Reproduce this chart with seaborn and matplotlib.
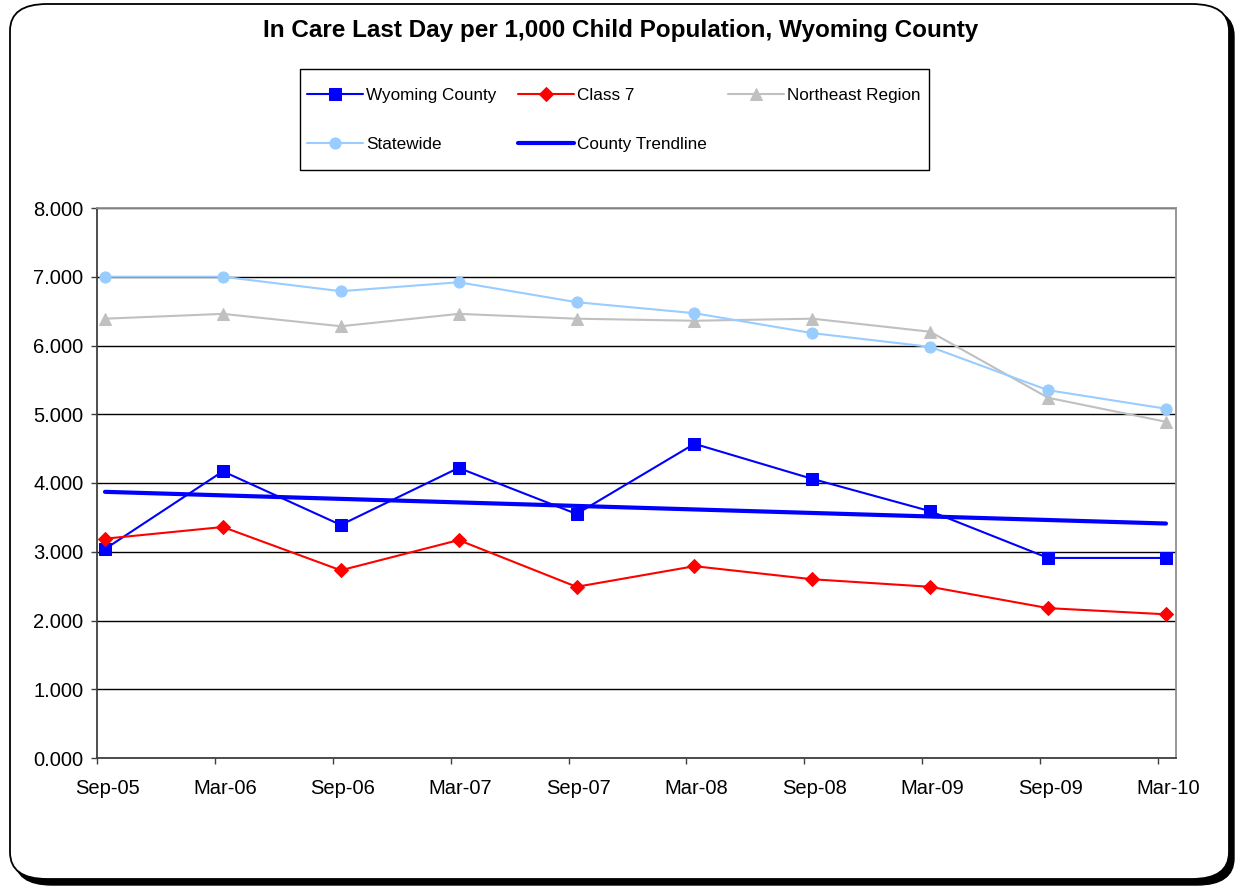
import numpy as np
import pandas as pd
import matplotlib
matplotlib.use("Agg")
import matplotlib.pyplot as plt
import seaborn as sns
from matplotlib.patches import FancyBboxPatch, Rectangle

# data
periods = ["Sep-05", "Mar-06", "Sep-06", "Mar-07", "Sep-07",
           "Mar-08", "Sep-08", "Mar-09", "Sep-09", "Mar-10"]
wyoming = [3.04, 4.17, 3.39, 4.22, 3.55, 4.57, 4.06, 3.59, 2.91, 2.91]
class7 = [3.19, 3.36, 2.73, 3.17, 2.49, 2.79, 2.60, 2.49, 2.18, 2.09]
northeast = [6.39, 6.46, 6.28, 6.46, 6.39, 6.36, 6.39, 6.20, 5.24, 4.89]
statewide = [7.00, 7.00, 6.79, 6.92, 6.63, 6.47, 6.18, 5.98, 5.35, 5.08]
y_ticks = [0, 1, 2, 3, 4, 5, 6, 7, 8]

idx = np.arange(len(periods))
# county trendline = linear fit of county values
coef = np.polyfit(idx, wyoming, 1)
trend = np.polyval(coef, idx)

df = pd.DataFrame({"idx": idx, "Wyoming County": wyoming, "Class 7": class7,
                   "Northeast Region": northeast, "Statewide": statewide,
                   "County Trendline": trend})

sns.set_style("white")
plt.rcParams['font.family'] = ['Liberation Sans', 'DejaVu Sans']
plt.rcParams['text.color'] = 'black'
plt.rcParams['xtick.color'] = 'black'
plt.rcParams['ytick.color'] = 'black'

W, H = 1238, 891
fig = plt.figure(figsize=(W / 100, H / 100), dpi=100)

# outer rounded frame with shadow
shadow = FancyBboxPatch((15 / W, 1 - 885 / H), 1219 / W, 876 / H,
                        boxstyle="round,pad=0,rounding_size=0.03",
                        transform=fig.transFigure, facecolor="black",
                        edgecolor="black", zorder=0)
frame = FancyBboxPatch((10 / W, 1 - 879 / H), 1219 / W, 875 / H,
                       boxstyle="round,pad=0,rounding_size=0.03",
                       transform=fig.transFigure, facecolor="white",
                       edgecolor="black", linewidth=1.3, zorder=1)
fig.patches.extend([shadow, frame])

ax = fig.add_axes([97 / W, 1 - 758 / H, (1176 - 97) / W, (758 - 208) / H])
ax.set_zorder(2)
ax.patch.set_alpha(0)

styles = [
    ("Wyoming County", "#0000FF", "s", 8, 1.5),
    ("Class 7", "#FF0000", "D", 7.5, 1.5),
    ("Northeast Region", "#C0C0C0", "^", 8.5, 1.5),
    ("Statewide", "#99CCFF", "o", 8, 1.5),
]
for name, color, marker, ms, lw in styles:
    sns.lineplot(data=df, x="idx", y=name, ax=ax, color=color, marker=marker,
                 markersize=ms, markeredgecolor=color, linewidth=lw, label=name,
                 legend=False, zorder=4)
sns.lineplot(data=df, x="idx", y="County Trendline", ax=ax, color="#0000FF",
             linewidth=3, label="County Trendline", legend=False, zorder=5)

ax.set_xlim(-0.068, 9.085)
ax.set_ylim(0, 8)
ax.set_yticks(y_ticks)
ax.set_yticklabels([f"{v:.3f}" for v in y_ticks], fontsize=14.5)
ax.yaxis.grid(True, color="black", linewidth=1)
ax.set_axisbelow(True)

ax.set_xticks(idx - 0.068)
ax.set_xticklabels([])
ax.set_xticks(idx + 0.017, minor=True)
ax.set_xticklabels(periods, minor=True, fontsize=14.5)
ax.tick_params(axis="x", which="major", bottom=True, length=4.3, width=1,
               color="#404040", direction="out")
ax.tick_params(axis="x", which="minor", bottom=True, length=0, pad=15)
ax.tick_params(axis="y", left=True, length=4.3, width=1, color="#404040",
               direction="out", pad=5.5)
ax.set_xlabel("")
ax.set_ylabel("")

for side in ["left", "bottom"]:
    ax.spines[side].set_color("#404040")
    ax.spines[side].set_linewidth(1.3)
for side in ["top", "right"]:
    ax.spines[side].set_visible(True)
    ax.spines[side].set_color("#909090")
    ax.spines[side].set_linewidth(1.3)

fig.text(621 / W, 1 - 30 / H, "In Care Last Day per 1,000 Child Population, Wyoming County",
         ha="center", va="center", fontsize=17.5, fontweight="bold", zorder=3)

# legend box drawn by hand, entries row-wise
fig.patches.append(Rectangle((300 / W, 1 - 170 / H), 629 / W, 101 / H,
                             transform=fig.transFigure, facecolor="white",
                             edgecolor="black", linewidth=1.0, zorder=2))
lines = {l.get_label(): l for l in ax.get_lines()}
order = ["Wyoming County", "Statewide", "Class 7", "County Trendline", "Northeast Region"]
handles = [lines[n] for n in order]
leg = fig.legend(handles, order, ncol=3, loc="center left",
                 bbox_to_anchor=(307 / W, 1 - 120 / H), fontsize=12.3,
                 frameon=False, handlelength=3.3, handletextpad=0.15,
                 columnspacing=1.25, labelspacing=2.0, borderpad=0,
                 borderaxespad=0)
leg.set_zorder(3)

fig.savefig("out.png", dpi=100)
